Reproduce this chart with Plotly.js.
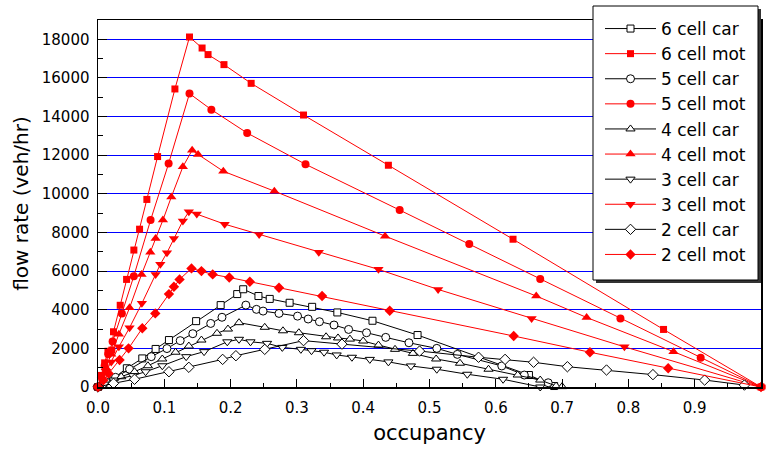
<!DOCTYPE html>
<html>
<head>
<meta charset="utf-8">
<script src="https://cdn.plot.ly/plotly-3.0.1.min.js"></script>
<style>html,body{margin:0;padding:0;background:#fff;}#chart{width:771px;height:450px;}</style>
</head>
<body>
<div id="chart"></div>
<script>
// ---- data ----
const seriesNames = ["6 cell car","6 cell mot","5 cell car","5 cell mot","4 cell car","4 cell mot","3 cell car","3 cell mot","2 cell car","2 cell mot"];

const x6car = [0, 0.008, 0.0234, 0.0435, 0.0668, 0.0869, 0.107, 0.148, 0.185, 0.210, 0.219, 0.242, 0.259, 0.289, 0.323, 0.361, 0.414, 0.482, 0.650, 0.688];
const y6car = [0, 150, 450, 970, 1480, 1970, 2430, 3410, 4240, 4810, 5060, 4710, 4560, 4360, 4150, 3860, 3430, 2690, 620, 50];

const x6mot = [0, 0.005, 0.01, 0.015, 0.0209, 0.0234, 0.0335, 0.0431, 0.0541, 0.0627, 0.0737, 0.0899, 0.116, 0.138, 0.157, 0.166, 0.190, 0.231, 0.310, 0.438, 0.626, 0.853, 1.0];
const y6mot = [0, 600, 1250, 1850, 1910, 2860, 4230, 5570, 7090, 8170, 9710, 11930, 15430, 18120, 17550, 17210, 16690, 15720, 14080, 11480, 7650, 2980, 0];

const x5car = [0, 0.0264, 0.0476, 0.0803, 0.104, 0.124, 0.143, 0.170, 0.187, 0.223, 0.239, 0.249, 0.273, 0.301, 0.317, 0.334, 0.356, 0.378, 0.405, 0.434, 0.469, 0.511, 0.542, 0.609, 0.643, 0.679];
const y5car = [0, 500, 920, 1570, 1990, 2400, 2760, 3290, 3610, 4240, 4020, 3930, 3810, 3670, 3520, 3380, 3210, 2980, 2810, 2570, 2290, 2000, 1690, 1090, 620, 220];

const x5mot = [0, 0.005, 0.01, 0.0155, 0.022, 0.036, 0.054, 0.0793, 0.1065, 0.138, 0.171, 0.225, 0.313, 0.455, 0.560, 0.667, 0.788, 0.909, 1.0];
const y5mot = [0, 550, 1100, 1700, 2350, 3810, 5740, 8640, 11570, 15190, 14360, 13150, 11530, 9160, 7400, 5590, 3550, 1520, 0];

const x4car = [0, 0.015, 0.035, 0.0551, 0.0753, 0.097, 0.117, 0.137, 0.156, 0.1795, 0.196, 0.2127, 0.2515, 0.279, 0.303, 0.344, 0.362, 0.380, 0.400, 0.423, 0.448, 0.475, 0.510, 0.546, 0.589, 0.633, 0.667, 0.691, 0.700];
const y4car = [0, 250, 530, 790, 1100, 1450, 1800, 2120, 2430, 2780, 3000, 3330, 3090, 2910, 2810, 2600, 2540, 2480, 2380, 2170, 1950, 1740, 1450, 1230, 920, 620, 360, 50, 20];

const x4mot = [0, 0.006, 0.012, 0.02, 0.0315, 0.0476, 0.0657, 0.0789, 0.0869, 0.0979, 0.1106, 0.128, 0.142, 0.151, 0.189, 0.266, 0.433, 0.661, 0.737, 0.868, 1.0];
const y4mot = [0, 500, 1000, 1700, 2730, 4100, 5830, 6970, 7690, 8640, 9840, 11400, 12260, 12040, 11170, 10140, 7810, 4710, 3600, 1830, 0];

const x3car = [0, 0.01, 0.0234, 0.0526, 0.0718, 0.097, 0.133, 0.160, 0.195, 0.2127, 0.230, 0.255, 0.278, 0.306, 0.322, 0.341, 0.360, 0.383, 0.410, 0.438, 0.472, 0.511, 0.557, 0.611, 0.667];
const y3car = [0, 150, 360, 590, 790, 1100, 1570, 1830, 2340, 2470, 2340, 2260, 2050, 1950, 1880, 1800, 1660, 1540, 1430, 1300, 1090, 920, 660, 400, 0];

const x3mot = [0, 0.006, 0.012, 0.02, 0.0315, 0.0476, 0.0662, 0.0869, 0.094, 0.104, 0.1145, 0.128, 0.137, 0.149, 0.191, 0.243, 0.333, 0.423, 0.513, 0.654, 0.794, 1.0];
const y3mot = [0, 400, 800, 1300, 2080, 3070, 4330, 5830, 6350, 6950, 7690, 8600, 9070, 8950, 8430, 7900, 6970, 6090, 5050, 3550, 2080, 0];

const x2car = [0, 0.0234, 0.0551, 0.107, 0.137, 0.188, 0.208, 0.2515, 0.310, 0.368, 0.485, 0.574, 0.614, 0.657, 0.708, 0.767, 0.837, 0.915, 0.975];
const y2car = [0, 190, 400, 790, 1020, 1430, 1620, 1950, 2400, 2220, 1860, 1540, 1430, 1280, 1050, 880, 640, 360, 100];

const x2mot = [0, 0.008, 0.016, 0.0325, 0.0461, 0.0668, 0.0864, 0.107, 0.1145, 0.123, 0.141, 0.156, 0.173, 0.198, 0.229, 0.273, 0.338, 0.440, 0.627, 0.742, 0.860, 1.0];
const y2mot = [0, 350, 700, 1400, 2000, 3040, 3810, 4810, 5190, 5570, 6140, 6000, 5830, 5670, 5450, 5140, 4710, 3950, 2640, 1800, 970, 0];

const xTickVals = [0,0.1,0.2,0.3,0.4,0.5,0.6,0.7,0.8,0.9,1.0];
const yTickVals = [0,2000,4000,6000,8000,10000,12000,14000,16000,18000];

// ---- styling ----
const FONT = "DejaVu Sans, Liberation Sans, Arial, sans-serif";
function carTrace(name, xs, ys, sym, size) {
  return {x: xs, y: ys, name: name, type: "scatter", mode: "lines+markers", cliponaxis: false,
    line: {color: "#000000", width: 1},
    marker: {symbol: sym, size: size, color: "#ffffff", line: {color: "#000000", width: 1}}};
}
function motTrace(name, xs, ys, sym, size) {
  return {x: xs, y: ys, name: name, type: "scatter", mode: "lines+markers", cliponaxis: false,
    line: {color: "#ff0000", width: 1},
    marker: {symbol: sym, size: size, color: "#ff0000", line: {width: 0}}};
}
const traces = [
  carTrace(seriesNames[0], x6car, y6car, "square", 7),
  motTrace(seriesNames[1], x6mot, y6mot, "square", 7),
  carTrace(seriesNames[2], x5car, y5car, "circle", 8),
  motTrace(seriesNames[3], x5mot, y5mot, "circle", 8),
  carTrace(seriesNames[4], x4car, y4car, "triangle-up", 8),
  motTrace(seriesNames[5], x4mot, y4mot, "triangle-up", 9),
  carTrace(seriesNames[6], x3car, y3car, "triangle-down", 8),
  motTrace(seriesNames[7], x3mot, y3mot, "triangle-down", 9),
  carTrace(seriesNames[8], x2car, y2car, "diamond", 8),
  motTrace(seriesNames[9], x2mot, y2mot, "diamond", 8)
];

const L = 98, R = 10, T = 20, B = 63, W = 771, H = 450;
const pw = W - L - R, ph = H - T - B;
function px2paperX(p) { return (p - L) / pw; }
function px2paperY(p) { return (H - B - p) / ph; }

const layout = {
  width: W, height: H,
  margin: {l: L, r: R, t: T, b: B, pad: 0},
  paper_bgcolor: "#ffffff", plot_bgcolor: "#ffffff",
  font: {family: FONT, color: "#000000", size: 15},
  showlegend: true,
  xaxis: {
    range: [0, 1.0], tickvals: xTickVals, tickformat: ".1f",
    ticks: "inside", ticklen: 8, tickwidth: 1, tickcolor: "#000",
    minor: {dtick: 0.05, tick0: 0, ticks: "inside", ticklen: 4, tickwidth: 1, tickcolor: "#000", showgrid: false},
    showline: true, linecolor: "#000", linewidth: 1.5, mirror: true,
    showgrid: false, zeroline: false, ticklabelstandoff: 6,
    tickfont: {family: FONT, size: 15},
    title: {text: "occupancy", font: {family: FONT, size: 21}, standoff: 10}
  },
  yaxis: {
    range: [0, 19000], tickvals: yTickVals, tickformat: "d",
    ticks: "inside", ticklen: 9, tickwidth: 1, tickcolor: "#000",
    minor: {dtick: 1000, tick0: 0, ticks: "inside", ticklen: 5, tickwidth: 1, tickcolor: "#000", showgrid: false},
    showline: true, linecolor: "#000", linewidth: 1.5, mirror: true,
    showgrid: true, gridcolor: "#0000ff", gridwidth: 1, zeroline: false, ticklabelstandoff: 4,
    tickfont: {family: FONT, size: 15},
    title: {text: "flow rate (veh/hr)", font: {family: FONT, size: 20}, standoff: 8}
  },
  legend: {
    x: px2paperX(600), y: px2paperY(11), xanchor: "left", yanchor: "top",
    bgcolor: "rgba(0,0,0,0)", borderwidth: 0, maxheight: 400,
    font: {family: FONT, size: 17, color: "#000"},
    itemwidth: 51, tracegroupgap: 0, traceorder: "normal"
  },
  shapes: [
    {type: "rect", xref: "paper", yref: "paper", layer: "above",
     x0: px2paperX(596), x1: px2paperX(761), y0: px2paperY(283), y1: px2paperY(9),
     fillcolor: "#333333", line: {width: 0}},
    {type: "rect", xref: "paper", yref: "paper", layer: "above",
     x0: px2paperX(593), x1: px2paperX(758), y0: px2paperY(280), y1: px2paperY(6),
     fillcolor: "#ffffff", line: {color: "#000000", width: 1}}
  ]
};

Plotly.newPlot("chart", traces, layout, {staticPlot: true, displayModeBar: false});
</script>
</body>
</html>
